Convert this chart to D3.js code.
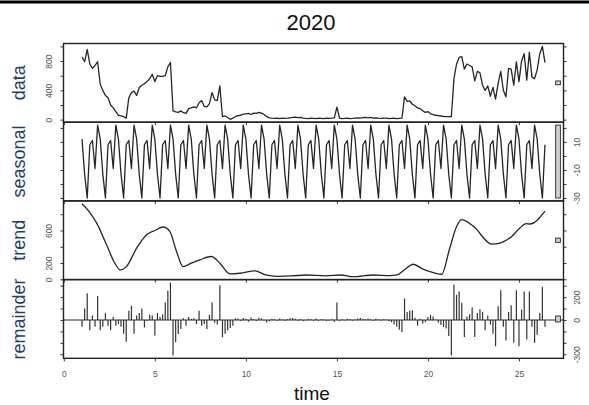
<!DOCTYPE html>
<html>
<head>
<meta charset="utf-8">
<script src="https://cdn.jsdelivr.net/npm/d3@7"></script>
<style>
  body { margin: 0; background: #ffffff; }
  svg { display: block; font-family: "Liberation Sans", Arial, sans-serif; }
</style>
</head>
<body>
<svg id="stl" width="589" height="405"></svg>
<script>
// Series (weekly frequency, starts at time 1)
const freq = 7;
const startTime = 1;

const dataValues = [
  855, 790, 960, 760, 700, 740, 790, 480, 400, 330,
  300, 200, 160, 110, 60, 50, 40, 20, 300, 370,
  390, 330, 440, 470, 490, 520, 560, 620, 520, 600,
  590, 590, 600, 720, 780, 120, 105, 100, 120, 95,
  85, 150, 160, 175, 160, 230, 260, 180, 175, 220,
  370, 270, 260, 460, 40, 50, 30, 5, 20, 40,
  55, 60, 75, 80, 85, 70, 90, 85, 100, 90,
  70, 40, 25, 20, 18, 20, 15, 22, 18, 20,
  25, 30, 35, 28, 30, 22, 18, 15, 20, 18,
  15, 20, 18, 15, 22, 18, 20, 25, 170, 20,
  15, 18, 20, 15, 18, 22, 25, 20, 28, 30,
  25, 30, 22, 25, 20, 18, 22, 20, 15, 18,
  20, 15, 18, 20, 310, 250, 255, 210, 190, 160,
  150, 120, 100, 110, 80, 70, 60, 55, 50, 45,
  40, 40, 40, 560, 760, 850, 860, 690, 760, 740,
  720, 530, 660, 640, 470, 400, 460, 320, 440, 280,
  500, 660, 400, 310, 700, 690, 470, 790, 520, 800,
  900, 540, 920, 580, 560, 680, 900, 1000, 780
];

// one weekly cycle of the (periodic) seasonal component
const seasonalCycle = [12, -13, -30, 8, 11, -9, 22];

// trend read at these times
const trendTimes = [
  1.0, 1.4, 1.8, 2.35, 2.8, 3.1, 3.44, 4.0, 4.55, 5.0,
  5.46, 5.82, 6.19, 6.55, 7.0, 7.47, 8.1, 8.57, 9.12, 9.67,
  10.5, 11.1, 11.7, 12.5, 13.3, 14.4, 15.2, 15.9, 17.0, 17.9,
  18.3, 18.7, 19.2, 19.7, 20.3, 20.75, 21.2, 21.58, 21.85, 22.5,
  23.5, 23.96, 24.6, 25.05, 25.4, 25.6, 26.43
];
const trendValues = [
  928, 830, 693, 424, 198, 115, 156, 384, 548, 600,
  643, 589, 342, 156, 198, 239, 280, 198, 66, 74,
  103, 53, 37, 41, 53, 41, 53, 32, 53, 45,
  53, 115, 185, 127, 82, 62, 384, 651, 734, 651,
  433, 446, 527, 631, 684, 680, 837
];

const remainderValues = [
  -60, 100, 235, -90, 40, -60, 210, -90, -60, 60,
  -50, -90, 25, -50, -35, -60, -120, -190, 80, 125,
  -120, 40, 60, 100, -64, -10, 45, 40, -136, 60,
  25, 50, 154, 255, 328, -310, -194, -122, -80, 15,
  -50, 25, 10, 15, -35, 81, -50, -35, -78, 45,
  154, -25, -40, 305, -151, -120, -90, -70, -50, 15,
  12, -8, 18, 10, -15, 22, 8, -10, 20, 14,
  -5, -22, -12, 10, 6, -8, 12, 4, -10, 8,
  15, 18, 10, -6, 8, -12, -5, 10, 6, -8,
  12, -6, 8, 5, -10, -4, 6, -15, 154, -10,
  6, -5, 10, 8, -6, 4, 12, 18, 10, 8,
  14, 6, -8, 10, 5, -6, 8, 4, -12, -20,
  -40, -60, -85, -107, 188, 70, 80, 85, 20, -50,
  10, -30, -20, 25, 45, 30, 5, -25, -45, -60,
  -75, -140, -310, 310, 220, 250, 150, -150, 30, 50,
  110, -150, 60, 95, 70, -90, 40, -40, -120, -230,
  120, 260, -60, -180, 70, 130, -200, 260, -230, 90,
  250, -170, 250, -60, -200, -130, 60, 290, -60
];

// axis ticks and the labels R kept
const panelNames = ["data", "seasonal", "trend", "remainder"];
const dataTicks = [0, 200, 400, 600, 800, 1000];
const dataLabels = [0, 400, 800];
const seasonalTicks = [-30, -20, -10, 0, 10, 20];
const seasonalLabels = [-30, -10, 10];
const trendTicks = [0, 200, 400, 600, 800];
const trendLabels = [0, 200, 600];
const remainderTicks = [-300, -200, -100, 0, 100, 200, 300];
const remainderLabels = [-300, 0, 200];
const timeTicks = [0, 5, 10, 15, 20, 25];
const title = "2020";

// layout
let svg = d3.select("svg#stl");
let width = 589;
let plotLeft = 63.5;
let plotRight = 563.5;
let plotTop = 43.5;
let panelHeight = 78.7;
let labelColor = "#1f3b78";
let tickColor = "#555";
let inkColor = "#262626";

let times = dataValues.map((d, i) => startTime + i / freq);
let seasonalValues = dataValues.map((d, i) => seasonalCycle[i % freq]);

// R pads every axis range by 4%
function padRange(ext) {
  let pad = (ext[1] - ext[0]) * 0.04;
  return [ext[0] - pad, ext[1] + pad];
}

const xScale = d3.scaleLinear()
  .domain(padRange(d3.extent(times)))
  .range([plotLeft, plotRight]);

let panels = [
  { name: panelNames[0], values: dataValues, ticks: dataTicks, labels: dataLabels, right: false },
  { name: panelNames[1], values: seasonalValues, ticks: seasonalTicks, labels: seasonalLabels, right: true },
  { name: panelNames[2], values: trendValues, ticks: trendTicks, labels: trendLabels, right: false },
  { name: panelNames[3], values: remainderValues, ticks: remainderTicks, labels: remainderLabels, right: true }
];

// range bar height is the smallest component range
let minSpan = d3.min(panels, p => d3.max(p.values) - d3.min(p.values));
let dx = (plotRight - plotLeft) / 64;

// top rule and title
svg.append("rect")
  .attr("x", 0).attr("y", 0.5)
  .attr("width", width).attr("height", 3)
  .attr("fill", "#000");

svg.append("text")
  .attr("x", 311)
  .attr("y", 30)
  .attr("text-anchor", "middle")
  .attr("font-size", "22px")
  .attr("fill", "#111")
  .text(title);

panels.forEach((p, k) => {
  let top = plotTop + k * panelHeight;
  let bottom = top + panelHeight;
  let ext = d3.extent(p.values);
  let yScale = d3.scaleLinear()
    .domain(padRange(ext))
    .range([bottom, top]);

  let g = svg.append("g");

  // series
  if (p.name === "trend") {
    let trendLine = d3.line()
      .x((d, i) => xScale(trendTimes[i]))
      .y(d => yScale(d))
      .curve(d3.curveMonotoneX);
    g.append("path")
      .attr("d", trendLine(trendValues))
      .attr("fill", "none")
      .attr("stroke", inkColor)
      .attr("stroke-width", 1.3);
  } else if (p.name === "remainder") {
    g.append("line")
      .attr("x1", plotLeft).attr("x2", plotRight)
      .attr("y1", yScale(0)).attr("y2", yScale(0))
      .attr("stroke", inkColor)
      .attr("stroke-width", 1.2);
    p.values.forEach((d, i) => {
      g.append("line")
        .attr("x1", xScale(times[i])).attr("x2", xScale(times[i]))
        .attr("y1", yScale(0)).attr("y2", yScale(d))
        .attr("stroke", "#333")
        .attr("stroke-width", 1.2);
    });
  } else {
    let line = d3.line()
      .x((d, i) => xScale(times[i]))
      .y(d => yScale(d));
    g.append("path")
      .attr("d", line(p.values))
      .attr("fill", "none")
      .attr("stroke", inkColor)
      .attr("stroke-width", 1.3)
      .attr("stroke-linejoin", "round");
  }

  // range bar
  let mid = (ext[0] + ext[1]) / 2;
  g.append("rect")
    .attr("x", plotRight - dx)
    .attr("width", 0.6 * dx)
    .attr("y", yScale(mid + minSpan / 2))
    .attr("height", yScale(mid - minSpan / 2) - yScale(mid + minSpan / 2))
    .attr("fill", "#d3d3d3")
    .attr("stroke", "#222")
    .attr("stroke-width", 0.9);

  // frame
  g.append("rect")
    .attr("x", plotLeft).attr("y", top)
    .attr("width", plotRight - plotLeft).attr("height", panelHeight)
    .attr("fill", "none")
    .attr("stroke", "#222")
    .attr("stroke-width", 1.4);

  // y axes on both sides, labels on one side only
  let leftAxis = d3.axisLeft(yScale).tickValues(p.ticks).tickSize(3)
    .tickFormat(d => (!p.right && p.labels.includes(d)) ? d : "");
  let rightAxis = d3.axisRight(yScale).tickValues(p.ticks).tickSize(3)
    .tickFormat(d => (p.right && p.labels.includes(d)) ? d : "");

  [[leftAxis, plotLeft, -14], [rightAxis, plotRight, 14]].forEach(a => {
    let ax = g.append("g")
      .attr("transform", "translate(" + a[1] + ",0)")
      .call(a[0]);
    ax.select(".domain").remove();
    ax.selectAll("line").attr("stroke", "#333");
    ax.selectAll("text")
      .attr("transform", "rotate(-90)")
      .attr("x", 0)
      .attr("y", a[2])
      .attr("dy", "0.35em")
      .attr("text-anchor", "middle")
      .attr("font-size", "8.5px")
      .attr("font-family", "Liberation Sans, Arial, sans-serif")
      .attr("fill", tickColor);
  });

  // time axis under every panel, labels on the last one
  let last = k === panels.length - 1;
  let bottomAxis = d3.axisBottom(xScale).tickValues(timeTicks).tickSize(3).tickPadding(10)
    .tickFormat(d => last ? d : "");
  let bx = g.append("g")
    .attr("transform", "translate(0," + bottom + ")")
    .call(bottomAxis);
  bx.select(".domain").remove();
  bx.selectAll("line").attr("stroke", "#333");
  bx.selectAll("text")
    .attr("font-size", "8.5px")
    .attr("font-family", "Liberation Sans, Arial, sans-serif")
    .attr("fill", tickColor);

  // panel name
  svg.append("text")
    .attr("transform", "translate(25," + (top + panelHeight / 2) + ") rotate(-90)")
    .attr("text-anchor", "middle")
    .attr("font-size", "18px")
    .attr("fill", labelColor)
    .text(p.name);
});

svg.append("text")
  .attr("x", 312)
  .attr("y", 400)
  .attr("text-anchor", "middle")
  .attr("font-size", "19px")
  .attr("fill", "#111")
  .text("time");
</script>
</body>
</html>
